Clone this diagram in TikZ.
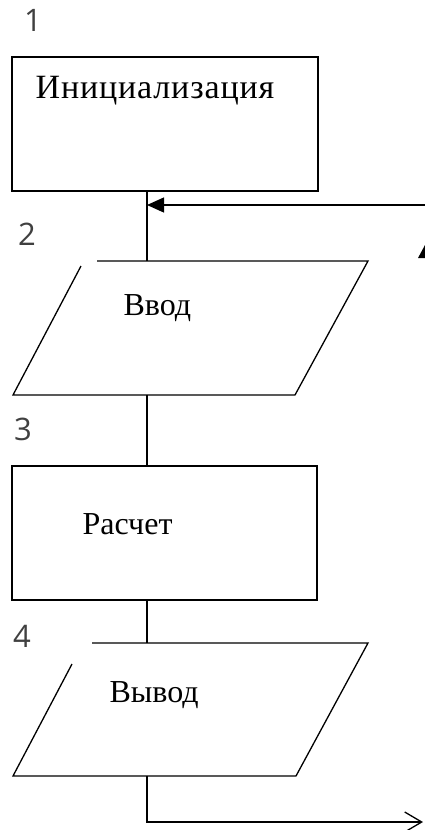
\documentclass[tikz,border=0pt]{standalone}
\usepackage{fontspec}
\setmainfont{Liberation Serif}
\newfontfamily\digitfont{Open Sans}
\usetikzlibrary{arrows.meta}
\begin{document}
\begin{tikzpicture}[x=1pt,y=-1pt,line width=1.3pt,
  caption/.style={inner sep=0pt,anchor=base west,font=\fontsize{32}{38}\selectfont},
  num/.style={inner sep=0pt,font=\digitfont\fontsize{31}{36}\selectfont,text=black!75},
  block/.style={draw,inner sep=0pt,minimum width=306pt,minimum height=134pt}]
\useasboundingbox (0,0) rectangle (425,830);

% step numbers
\node[num] (n1) at (33,20) {1};
\node[num] (n2) at (27,234) {2};
\node[num] (n3) at (23,429) {3};
\node[num] (n4) at (22,636) {4};

% block 1: initialisation
\node[block] (b1) at (165,124) {};
\node[caption,font=\fontsize{34}{40}\selectfont\addfontfeature{LetterSpace=2.5}] (t1) at (35,98) {Инициализация};

% block 2: input (parallelogram, open at the upper left corner)
\coordinate (p2tl) at (97,261);
\coordinate (p2tr) at (368,261);
\coordinate (p2br) at (295,395);
\coordinate (p2bl) at (13,395);
\coordinate (p2lt) at (81,266);
\draw (p2tl) -- (p2tr) -- (p2br) -- (p2bl) -- (p2lt);
\coordinate (p2in) at (147,261);
\coordinate (p2out) at (147,395);
\node[caption] (t2) at (123,315) {Ввод};

% block 3: computation
\node[block,minimum width=305pt] (b3) at (164.5,533) {};
\node[caption] (t3) at (82,534) {Расчет};

% block 4: output (parallelogram, open at the upper left corner)
\coordinate (p4tl) at (92,643);
\coordinate (p4tr) at (368,643);
\coordinate (p4br) at (296,776);
\coordinate (p4bl) at (13,776);
\coordinate (p4lt) at (72,664);
\draw (p4tl) -- (p4tr) -- (p4br) -- (p4bl) -- (p4lt);
\coordinate (p4in) at (147,643);
\coordinate (p4out) at (147,776);
\node[caption] (t4) at (109,702) {Вывод};

% main flow
\draw (p2in |- b1.south) -- (p2in);
\draw (p2out) -- (p2out |- b3.north);
\draw (p4in |- b3.south) -- (p4in);

% loop back into the input
\coordinate (loop) at (425,205);
\draw[-{Triangle[length=17pt,width=15pt]}] (loop) -- (loop -| p2in);
\fill (418,258) -- (425,245) -- (425,258) -- cycle;

% exit
\coordinate (turn) at (147,822);
\coordinate (exit) at (423,822);
\draw[-{Straight Barb[length=17pt,width=20pt]}] (p4out) -- (turn) -- (exit);
\end{tikzpicture}
\end{document}
